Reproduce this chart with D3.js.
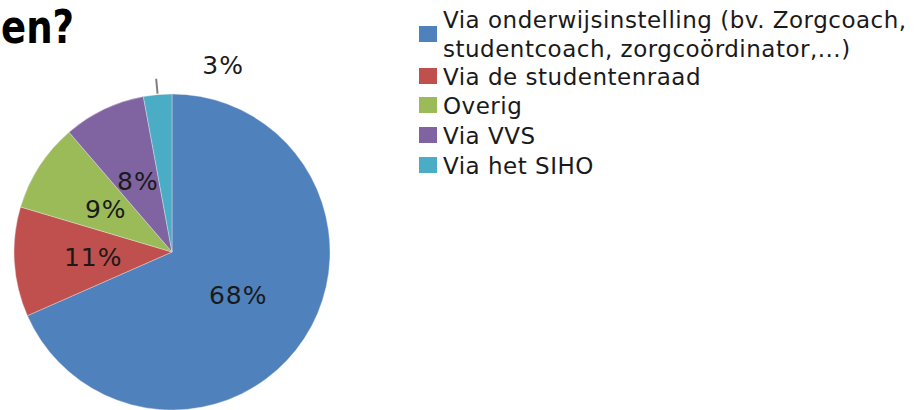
<!DOCTYPE html>
<html>
<head>
<meta charset="utf-8">
<script src="https://cdn.jsdelivr.net/npm/d3@7"></script>
<style>
  body { margin: 0; background: #fff; }
  svg { display: block; font-family: Verdana, "DejaVu Sans", sans-serif; }
</style>
</head>
<body>
<svg width="919" height="410"></svg>
<script>
// slice categories, in drawing order (clockwise from 12 o'clock)
var categories = [
  "Via onderwijsinstelling (bv. Zorgcoach,\nstudentcoach, zorgcoördinator,...)",
  "Via de studentenraad",
  "Overig",
  "Via VVS",
  "Via het SIHO"
];
var shares = [68.4, 11.2, 9.1, 8.4, 2.9];
var colors = ["#4F81BD", "#C0504D", "#9BBB59", "#8064A2", "#4BACC6"];

var width = 919, height = 410;
var cx = 172, cy = 252, radius = 158;

var svg = d3.select("svg");

// title, cut off by the crop
svg.append("text")
  .attr("x", 1)
  .attr("y", 43)
  .attr("textLength", 73)
  .attr("lengthAdjust", "spacingAndGlyphs")
  .style("font-family", "'DejaVu Sans', Verdana, sans-serif")
  .style("font-weight", "bold")
  .style("font-size", "47px")
  .attr("fill", "#000")
  .text("en?");

var pie = d3.pie().sort(null).value(function(d) { return d; });
var arc = d3.arc().innerRadius(0).outerRadius(radius);
var arcs = pie(shares);

var g = svg.append("g").attr("transform", "translate(" + cx + "," + cy + ")");

g.selectAll("path")
  .data(arcs)
  .enter()
  .append("path")
  .attr("d", arc)
  .style("fill", function(d, i) { return colors[i]; })
  .style("stroke", "#e8e8e8")
  .style("stroke-width", 0.4);

// inside labels sit half way out, the small slice gets a leader line
var labelArc = d3.arc().innerRadius(radius * 0.5).outerRadius(radius * 0.5);
var outerArc = d3.arc().innerRadius(radius + 1).outerRadius(radius + 1);
var leaderArc = d3.arc().innerRadius(radius + 16).outerRadius(radius + 16);

arcs.forEach(function(d, i) {
  var txt = Math.round(shares[i]) + "%";
  if (shares[i] < 5) {
    var p0 = outerArc.centroid(d), p1 = leaderArc.centroid(d);
    g.append("line")
      .attr("x1", p0[0]).attr("y1", p0[1])
      .attr("x2", p1[0]).attr("y2", p1[1])
      .style("stroke", "#7f7f7f")
      .style("stroke-width", 2);
    g.append("text")
      .attr("x", p1[0] + 67)
      .attr("y", p1[1] - 5)
      .attr("text-anchor", "middle")
      .style("font-size", "25px")
      .style("letter-spacing", "1px")
      .attr("fill", "#1a1a1a")
      .text(txt);
  } else {
    var p = labelArc.centroid(d);
    g.append("text")
      .attr("x", p[0])
      .attr("y", p[1])
      .attr("dy", "0.36em")
      .attr("text-anchor", "middle")
      .style("font-size", "25px")
      .style("letter-spacing", "1px")
      .attr("fill", "#1a1a1a")
      .text(txt);
  }
});

// legend
var legend = svg.append("g").attr("transform", "translate(419,0)");
var rowY = [34, 76, 105, 135, 165];

categories.forEach(function(c, i) {
  var lines = c.split("\n");
  legend.append("rect")
    .attr("x", 0)
    .attr("y", rowY[i] - 8)
    .attr("width", 18)
    .attr("height", 16)
    .style("fill", colors[i]);
  var t = legend.append("text")
    .attr("x", 24)
    .style("font-size", "23px")
    .style("letter-spacing", "0.5px")
    .attr("fill", "#1a1a1a");
  lines.forEach(function(l, j) {
    t.append("tspan")
      .attr("x", 24)
      .attr("y", (lines.length > 1 ? 28 : rowY[i] + 9) + j * 29)
      .text(l);
  });
});
</script>
</body>
</html>
